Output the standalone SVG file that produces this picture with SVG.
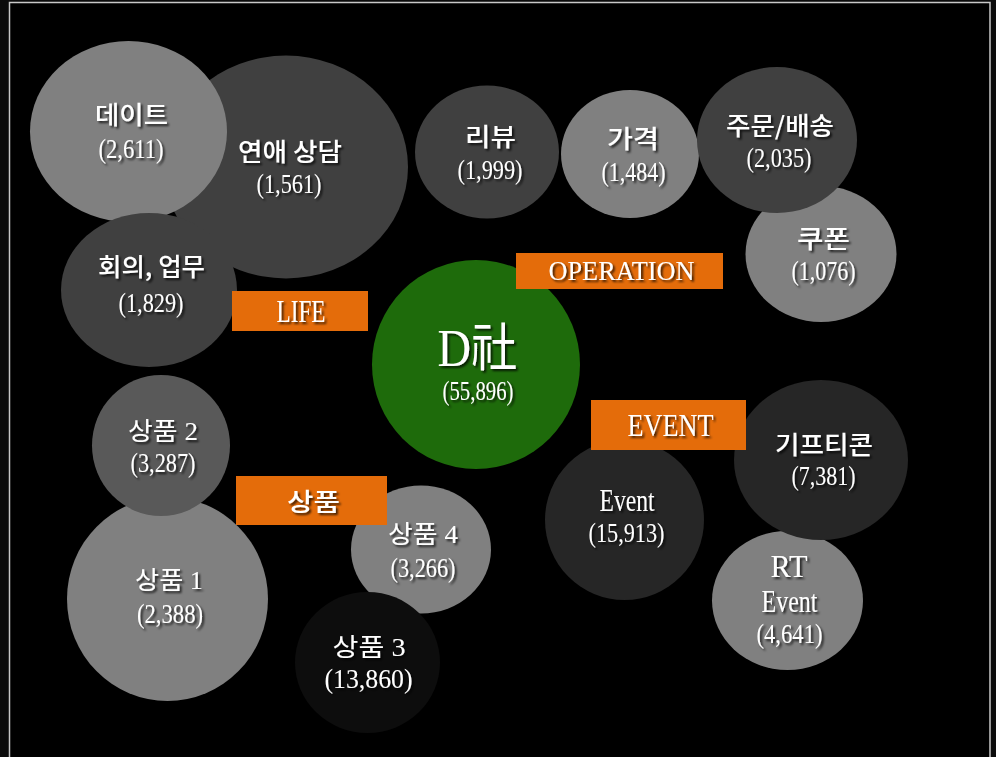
<svg xmlns="http://www.w3.org/2000/svg" width="996" height="757" viewBox="0 0 996 757">
<defs>
<filter id="sh" x="-20%" y="-30%" width="140%" height="160%">
<feDropShadow dx="2" dy="2" stdDeviation="1" flood-color="#000" flood-opacity="0.75"/>
</filter>
<style>
text{fill:#fff;text-anchor:middle;filter:url(#sh);font-family:"Liberation Serif","Noto Sans CJK KR",serif}
.k{font-family:"Noto Sans CJK KR","Liberation Sans",sans-serif;font-size:25px;font-weight:500}
.m{font-family:"Liberation Serif","Noto Sans CJK KR",serif;font-size:25px}
.n{font-size:28px}
.e{font-size:32px}
.dk{fill:#404040}.lt{fill:#808080}.md{fill:#595959}.bk{fill:#0d0d0d}.dd{fill:#262626}
.tag{fill:#E46C0A}
</style>
</defs>
<rect x="0" y="0" width="996" height="757" fill="#0b0b0b"/>
<rect x="9.5" y="2.5" width="980.5" height="800" fill="#000" stroke="#c8c8c8" stroke-width="1.5"/>

<g id="n-yeonae"><ellipse class="dk" cx="286" cy="167" rx="122" ry="111.5"/>
<text class="k" x="290" y="161" textLength="104" lengthAdjust="spacingAndGlyphs">연애 상담</text>
<text class="n" x="289" y="192.5" textLength="65" lengthAdjust="spacingAndGlyphs">(1,561)</text></g>

<g id="n-date"><ellipse class="lt" cx="128.5" cy="131.5" rx="98.5" ry="90.5"/>
<text class="k" x="131.5" y="124" textLength="73" lengthAdjust="spacingAndGlyphs">데이트</text>
<text class="n" x="131" y="157.5" textLength="65" lengthAdjust="spacingAndGlyphs">(2,611)</text></g>

<g id="n-meeting"><ellipse class="dk" cx="149" cy="290" rx="88" ry="77"/>
<text class="k" x="151.5" y="276" textLength="107" lengthAdjust="spacingAndGlyphs">회의, 업무</text>
<text class="n" x="151" y="311.5" textLength="65" lengthAdjust="spacingAndGlyphs">(1,829)</text></g>

<g id="n-review"><ellipse class="dk" cx="487" cy="152" rx="72" ry="66.5"/>
<text class="k" x="490.5" y="146" textLength="51" lengthAdjust="spacingAndGlyphs">리뷰</text>
<text class="n" x="490" y="178.5" textLength="65" lengthAdjust="spacingAndGlyphs">(1,999)</text></g>

<g id="n-price"><ellipse class="lt" cx="630" cy="154" rx="69" ry="64"/>
<text class="k" x="633" y="148" textLength="52" lengthAdjust="spacingAndGlyphs">가격</text>
<text class="n" x="633.5" y="180.5" textLength="64" lengthAdjust="spacingAndGlyphs">(1,484)</text></g>

<g id="n-coupon"><ellipse class="lt" cx="821" cy="254" rx="75.5" ry="68"/>
<text class="k" x="823.5" y="248" textLength="53" lengthAdjust="spacingAndGlyphs">쿠폰</text>
<text class="n" x="823.5" y="279.5" textLength="64" lengthAdjust="spacingAndGlyphs">(1,076)</text></g>

<g id="n-order"><ellipse class="dk" cx="777" cy="140" rx="80" ry="73"/>
<text class="k" x="780" y="135" textLength="108" lengthAdjust="spacingAndGlyphs">주문/배송</text>
<text class="n" x="779" y="166.5" textLength="65" lengthAdjust="spacingAndGlyphs">(2,035)</text></g>

<g id="n-center"><ellipse fill="#1E6B0B" cx="476" cy="364.5" rx="104" ry="104.5"/>
<text x="477.5" y="366" font-size="52" textLength="80" lengthAdjust="spacingAndGlyphs">D社</text>
<text x="478" y="400" font-size="27" textLength="71" lengthAdjust="spacingAndGlyphs">(55,896)</text></g>

<g id="n-p1"><ellipse class="lt" cx="167.5" cy="599" rx="100.5" ry="102"/>
<text class="m" x="169" y="589" textLength="68" lengthAdjust="spacingAndGlyphs">상품 1</text>
<text class="n" x="170" y="622.5" textLength="66" lengthAdjust="spacingAndGlyphs">(2,388)</text></g>

<g id="n-p2"><ellipse class="md" cx="161" cy="445.5" rx="69" ry="70.5"/>
<text class="m" x="163" y="440" textLength="70" lengthAdjust="spacingAndGlyphs">상품 2</text>
<text class="n" x="163" y="471.5" textLength="65" lengthAdjust="spacingAndGlyphs">(3,287)</text></g>

<g id="n-p4"><ellipse class="lt" cx="421" cy="549.5" rx="70" ry="64"/>
<text class="m" x="423" y="543" textLength="70" lengthAdjust="spacingAndGlyphs">상품 4</text>
<text class="n" x="423" y="576.5" textLength="65" lengthAdjust="spacingAndGlyphs">(3,266)</text></g>

<g id="n-p3"><ellipse class="bk" cx="367.5" cy="662.5" rx="72.5" ry="70.5"/>
<text class="m" x="369" y="656" textLength="73" lengthAdjust="spacingAndGlyphs">상품 3</text>
<text class="n" x="368.5" y="687.5" textLength="88" lengthAdjust="spacingAndGlyphs">(13,860)</text></g>

<g id="n-event"><ellipse class="dd" cx="624.5" cy="520" rx="79.5" ry="80"/>
<text class="e" x="627" y="511" textLength="55" lengthAdjust="spacingAndGlyphs">Event</text>
<text class="n" x="626.5" y="541.5" textLength="76" lengthAdjust="spacingAndGlyphs">(15,913)</text></g>

<g id="n-rt"><ellipse class="lt" cx="787.5" cy="600.5" rx="75.5" ry="69.5"/>
<text class="e" x="789" y="577" textLength="37" lengthAdjust="spacingAndGlyphs">RT</text>
<text class="e" x="789.5" y="612" textLength="56" lengthAdjust="spacingAndGlyphs">Event</text>
<text class="n" x="789.5" y="642.5" textLength="66" lengthAdjust="spacingAndGlyphs">(4,641)</text></g>

<g id="n-gift"><ellipse class="dd" cx="821" cy="460" rx="87" ry="80"/>
<text class="k" x="824" y="454" textLength="98" lengthAdjust="spacingAndGlyphs">기프티콘</text>
<text class="n" x="823.5" y="484.5" textLength="64" lengthAdjust="spacingAndGlyphs">(7,381)</text></g>

<g id="tag-life"><rect class="tag" x="232" y="291" width="136" height="40"/>
<text class="e" x="301" y="322" textLength="49" lengthAdjust="spacingAndGlyphs">LIFE</text></g>

<g id="tag-operation"><rect class="tag" x="516" y="253" width="207" height="36"/>
<text x="621.5" y="280" font-size="27" textLength="146" lengthAdjust="spacingAndGlyphs">OPERATION</text></g>

<g id="tag-event"><rect class="tag" x="591" y="400" width="155" height="50"/>
<text class="e" x="670.5" y="436" textLength="86" lengthAdjust="spacingAndGlyphs">EVENT</text></g>

<g id="tag-product"><rect class="tag" x="236" y="476" width="151" height="49"/>
<text class="k" x="313.5" y="511" textLength="53" lengthAdjust="spacingAndGlyphs">상품</text></g>
</svg>
